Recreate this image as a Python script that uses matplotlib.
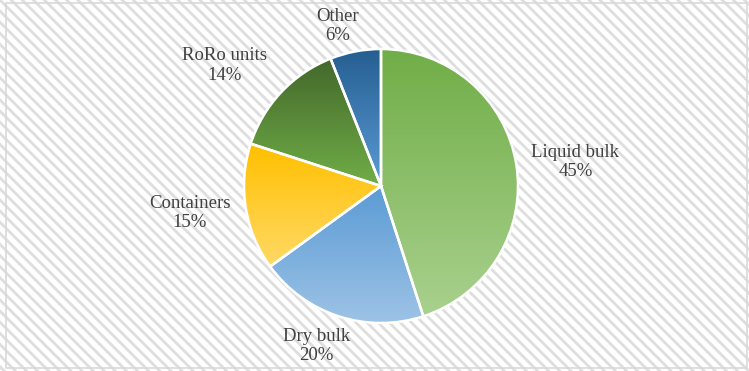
import numpy as np
import matplotlib
matplotlib.use("Agg")
import matplotlib.pyplot as plt
from matplotlib.patches import Rectangle
from matplotlib.colors import LinearSegmentedColormap

categories = ["Liquid bulk", "Dry bulk", "Containers", "RoRo units", "Other"]
values = [45, 20, 15, 14, 6]
pct_labels = ["45%", "20%", "15%", "14%", "6%"]

top_colors = ["#70AD47", "#5B9BD5", "#FFC000", "#43682B", "#255E91"]
bottom_colors = ["#A9D18E", "#9DC3E6", "#FFD966", "#70AD47", "#5B9BD5"]

# label placement (radial distance in radii, angle tweak in degrees)
label_dist = [1.43, 1.26, 1.41, 1.44, 1.21]
label_dang = [-2, -4, -1, 5.5, 4.5]

plt.rcParams["hatch.linewidth"] = 2.0
W, H = 749, 371
fig = plt.figure(figsize=(W / 100, H / 100), dpi=100)
fig.patch.set_facecolor("white")

bg = Rectangle((0, 0), 1, 1, transform=fig.transFigure, facecolor="white",
               edgecolor="#DEDEDE", hatch="\\\\\\", linewidth=0, zorder=-2)
fig.patches.append(bg)
border = Rectangle((6 / W, 3 / H), 741 / W, 365 / H, transform=fig.transFigure,
                   facecolor="none", edgecolor="#D9D9D9", linewidth=1.2, zorder=-1)
fig.patches.append(border)

ax = fig.add_axes([0, 0, 1, 1])
ax.set_zorder(1)
ax.patch.set_visible(False)
cx, cy, R = 381, 371 - 186, 137

wedges, _ = ax.pie(values, startangle=90, counterclock=False, radius=1,
                   wedgeprops=dict(facecolor="none", edgecolor="white", linewidth=1.8),
                   normalize=True)
ax.axis("off")

total = sum(values)
start = 90.0
for i, w in enumerate(wedges):
    path = w.get_path().transformed(w.get_patch_transform())
    ext = path.get_extents()
    cmap = LinearSegmentedColormap.from_list("g%d" % i, [top_colors[i], bottom_colors[i]])
    grad = np.linspace(0, 1, 256).reshape(-1, 1)
    im = ax.imshow(grad, cmap=cmap, aspect="auto", origin="upper",
                   extent=(ext.x0, ext.x1, ext.y0, ext.y1), zorder=1,
                   interpolation="bilinear")
    im.set_clip_path(w)
    w.set_zorder(2)
    span = values[i] / total * 360
    mid = start - span / 2
    start -= span
    ang = np.deg2rad(mid + label_dang[i])
    x = label_dist[i] * np.cos(ang)
    y = label_dist[i] * np.sin(ang)
    ax.text(x, y, categories[i] + "\n" + pct_labels[i], ha="center", va="center",
            fontsize=13.5, family="Liberation Serif", color="#404040",
            linespacing=1.2, zorder=3)

ax.set_aspect("auto")
ax.set_xlim(-cx / R, (W - cx) / R)
ax.set_ylim(-cy / R, (H - cy) / R)
fig.savefig("out.png", dpi=100)
